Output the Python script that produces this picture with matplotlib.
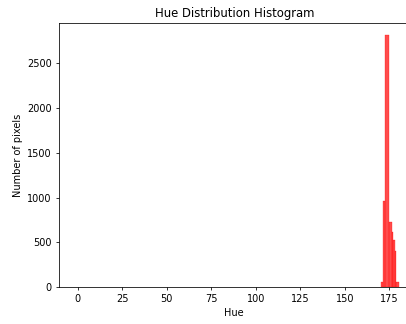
import numpy as np
import matplotlib.pyplot as plt

# hue bin edges and pixel counts
bin_edges = [170.3, 171.3, 172.6, 175.0, 176.3, 176.9, 178.0, 178.8, 180.3]
pixel_counts = [62, 966, 2820, 725, 620, 528, 405, 62]
hue_ticks = [0, 25, 50, 75, 100, 125, 150, 175]
count_ticks = [0, 500, 1000, 1500, 2000, 2500]

centers = (np.array(bin_edges[:-1]) + np.array(bin_edges[1:])) / 2

fig = plt.figure(figsize=(406 / 70, 324 / 70), dpi=70)
ax = fig.add_axes([0.1446, 0.1133, 0.865, 0.8167])
ax.hist(centers, bins=bin_edges, weights=pixel_counts, color="red", alpha=0.7,
        edgecolor="red", linewidth=0.4)
ax.set_xlim(-10.7, 186.6)
ax.set_ylim(0, 2953)
ax.set_xticks(hue_ticks)
ax.set_yticks(count_ticks)
ax.set_title("Hue Distribution Histogram")
ax.set_xlabel("Hue")
ax.set_ylabel("Number of pixels")
fig.savefig("out.png", dpi=70)
